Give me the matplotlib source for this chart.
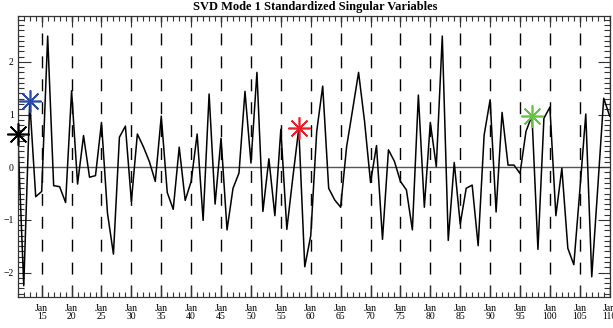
import numpy as np
import matplotlib.pyplot as plt
from matplotlib.ticker import MultipleLocator, FixedLocator, FixedFormatter

# time index (one value per step) and standardized singular variable
t = np.arange(11, 111)
svar = [0.63, -2.25, 1.25, -0.56, -0.46, 2.49, -0.35, -0.37, -0.67, 1.45,
        -0.32, 0.60, -0.19, -0.16, 0.85, -0.87, -1.65, 0.57, 0.78, -0.65,
        0.63, 0.39, 0.11, -0.27, 0.97, -0.48, -0.80, 0.38, -0.63, -0.27,
        0.63, -1.01, 1.39, -0.70, 0.55, -1.19, -0.40, -0.11, 1.44, 0.08,
        1.80, -0.84, 0.16, -0.92, 0.72, -1.18, -0.20, 0.74, -1.89, -1.30,
        0.68, 1.54, -0.40, -0.62, -0.76, 0.39, 1.09, 1.80, 0.87, -0.29,
        0.41, -1.37, 0.33, 0.11, -0.27, -0.43, -1.19, 1.37, -0.76, 0.85,
        0.01, 2.49, -1.39, 0.09, -1.08, -0.40, -0.34, -1.49, 0.61, 1.28,
        -0.85, 1.04, 0.04, 0.04, -0.12, 0.68, 0.98, -1.56, 0.93, 1.14,
        -0.92, -0.02, -1.54, -1.85, -0.45, 1.01, -2.08, -0.40, 1.31, 0.97]

# highlighted steps and their colours
mark_t = [11, 13, 58, 97]
mark_colors = ['black', '#2a4aa8', '#e8202c', '#66c244']

major_t = list(range(15, 111, 5))
major_labels = ['Jan\n%d' % v for v in major_t]

plt.rcParams['font.family'] = 'Liberation Serif'

fig = plt.figure(figsize=(6.13, 3.28), dpi=100)
ax = fig.add_axes([0.029, 0.0936, 0.9656, 0.8591])

ymin, ymax = -2.47, 2.88

# dashed guides at every labelled tick
for v in major_t:
    ax.plot([v, v], [ymin, ymax], color='black', lw=1.0,
            dashes=(8.6, 7.9), zorder=1)

ax.axhline(0, color='#555555', lw=1.0, zorder=1)
ax.plot(t, svar, color='black', lw=1.1, zorder=2)

for tm, c in zip(mark_t, mark_colors):
    ax.plot(tm, svar[tm - 11], marker=(8, 2, 0), ms=16, mew=1.2,
            color=c, zorder=3, clip_on=False)

ax.set_xlim(11, 110)
ax.set_ylim(ymin, ymax)

ax.xaxis.set_major_locator(FixedLocator(major_t))
ax.xaxis.set_major_formatter(FixedFormatter(major_labels))
ax.xaxis.set_minor_locator(MultipleLocator(1))
ax.yaxis.set_major_locator(FixedLocator([-2, -1, 0, 1, 2]))
ax.yaxis.set_minor_locator(MultipleLocator(0.1))

ax.tick_params(which='both', direction='in', top=True, right=True,
               color='#333333', width=0.8, labelsize=7)
ax.tick_params(axis='x', which='major', length=8, pad=5)
ax.tick_params(axis='x', which='minor', length=3.5)
ax.tick_params(axis='y', which='major', length=9, pad=3)
ax.tick_params(axis='y', which='minor', length=4.5)
for lab in ax.get_xticklabels():
    lab.set_linespacing(0.85)

for sp in ax.spines.values():
    sp.set_color('#333333')
    sp.set_linewidth(0.9)

fig.text(0.514, 0.979, 'SVD Mode 1 Standardized Singular Variables',
         ha='center', va='center', fontsize=9, fontweight='bold')

fig.savefig('out.png', dpi=100)
